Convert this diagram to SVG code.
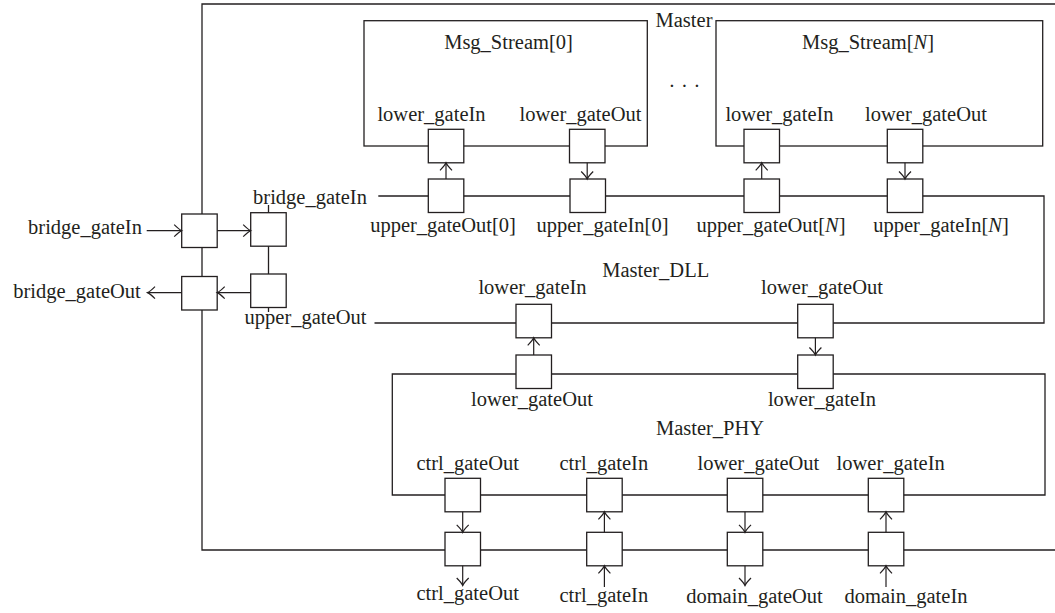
<svg xmlns="http://www.w3.org/2000/svg" width="1055" height="613" viewBox="0 0 1055 613">
<style>
.ln{fill:none;stroke:#231f20;stroke-width:1.3}
.pt{fill:#fff;stroke:#231f20;stroke-width:1.3}
.ar{fill:none;stroke:#231f20;stroke-width:1.2;marker-end:url(#ah)}
text{font-family:"Liberation Serif","Times New Roman",serif;font-size:20.5px;fill:#231f20;text-anchor:middle}
</style>
<defs>
<marker id="ah" viewBox="-10 -8 12 16" markerWidth="12" markerHeight="16" refX="0" refY="0" orient="auto" markerUnits="userSpaceOnUse" overflow="visible">
<path d="M-7.5,-6 Q-2.5,-1 0,0 Q-2.5,1 -7.5,6" fill="none" stroke="#231f20" stroke-width="1.2"/>
</marker>
</defs>
<rect width="1055" height="613" fill="#fff"/>

<g id="Master">
<path class="ln" d="M1060,4 H202 V550 H1060"/>
<text x="684" y="27">Master</text>
<text x="672 684.5 697" y="93">···</text>
<rect class="pt" x="181.7" y="214" width="35.5" height="33.5"/>
<rect class="pt" x="181.7" y="276.5" width="35.5" height="33.5"/>
<rect class="pt" x="445" y="532.3" width="35.5" height="33.5"/>
<rect class="pt" x="586.7" y="532.3" width="35.5" height="33.5"/>
<rect class="pt" x="727.3" y="532.3" width="35.5" height="33.5"/>
<rect class="pt" x="868.3" y="532.3" width="35.5" height="33.5"/>
<text x="85" y="234">bridge_gateIn</text>
<text x="77" y="297.5">bridge_gateOut</text>
<text x="467.7" y="600">ctrl_gateOut</text>
<text x="603.8" y="601.7">ctrl_gateIn</text>
<text x="754.5" y="602.7">domain_gateOut</text>
<text x="906" y="602.7">domain_gateIn</text>
</g>

<g id="Msg_Stream0">
<rect class="ln" x="364" y="20.7" width="283.3" height="125.3"/>
<text x="508.5" y="49">Msg_Stream[0]</text>
<text x="431.5" y="120.5">lower_gateIn</text>
<text x="580.5" y="120.5">lower_gateOut</text>
<rect class="pt" x="428.3" y="129.3" width="35.5" height="33.5"/>
<rect class="pt" x="569.5" y="129.3" width="35.5" height="33.5"/>
</g>

<g id="Msg_StreamN">
<rect class="ln" x="716" y="20.7" width="326.7" height="125.3"/>
<text x="868" y="49">Msg_Stream[<tspan font-style="italic">N</tspan>]</text>
<text x="779.5" y="120.5">lower_gateIn</text>
<text x="926" y="120.5">lower_gateOut</text>
<rect class="pt" x="744" y="129.3" width="35.5" height="33.5"/>
<rect class="pt" x="887.3" y="129.3" width="35.5" height="33.5"/>
</g>

<g id="Master_DLL">
<path class="ln" d="M378.3,196 H1044 V323 H374.5"/>
<path class="ln" d="M268.5,205 V312"/>
<text x="310" y="204">bridge_gateIn</text>
<text x="305.5" y="324">upper_gateOut</text>
<text x="655.7" y="276.7">Master_DLL</text>
<text x="443" y="231.7">upper_gateOut[0]</text>
<text x="602.5" y="231.7">upper_gateIn[0]</text>
<text x="771" y="231.7">upper_gateOut[<tspan font-style="italic">N</tspan>]</text>
<text x="941" y="231.7">upper_gateIn[<tspan font-style="italic">N</tspan>]</text>
<text x="532.5" y="294.3">lower_gateIn</text>
<text x="822" y="293.5">lower_gateOut</text>
<rect class="pt" x="250.7" y="212.7" width="35.5" height="33.5"/>
<rect class="pt" x="250.7" y="274" width="35.5" height="33.5"/>
<rect class="pt" x="428.3" y="179" width="35.5" height="33.5"/>
<rect class="pt" x="570" y="179" width="35.5" height="33.5"/>
<rect class="pt" x="744" y="179" width="35.5" height="33.5"/>
<rect class="pt" x="887.3" y="179" width="35.5" height="33.5"/>
<rect class="pt" x="516" y="304.3" width="35.5" height="33.5"/>
<rect class="pt" x="797.7" y="304.3" width="35.5" height="33.5"/>
</g>

<g id="Master_PHY">
<path class="ln" d="M516,374 H392.3 V495 H1045 V374 H516"/>
<text x="532" y="406">lower_gateOut</text>
<text x="822" y="406">lower_gateIn</text>
<text x="710" y="435">Master_PHY</text>
<text x="467.7" y="470">ctrl_gateOut</text>
<text x="603.8" y="470">ctrl_gateIn</text>
<text x="758.4" y="470">lower_gateOut</text>
<text x="890.7" y="470">lower_gateIn</text>
<rect class="pt" x="516" y="355" width="35.5" height="33.5"/>
<rect class="pt" x="797.7" y="355" width="35.5" height="33.5"/>
<rect class="pt" x="445" y="478.3" width="35.5" height="33.5"/>
<rect class="pt" x="586.7" y="478.3" width="35.5" height="33.5"/>
<rect class="pt" x="727.3" y="478.3" width="35.5" height="33.5"/>
<rect class="pt" x="868.3" y="478.3" width="35.5" height="33.5"/>
</g>

<g id="connectors">
<line class="ar" x1="146.7" y1="230.7" x2="181.7" y2="230.7"/>
<line class="ar" x1="217.2" y1="230.7" x2="250.7" y2="230.7"/>
<line class="ar" x1="250.7" y1="292.6" x2="217.2" y2="292.6"/>
<line class="ar" x1="181.7" y1="292.6" x2="147.5" y2="292.6"/>
<line class="ar" x1="446" y1="179" x2="446" y2="162.8"/>
<line class="ar" x1="587.2" y1="162.8" x2="587.2" y2="179"/>
<line class="ar" x1="761.7" y1="179" x2="761.7" y2="162.8"/>
<line class="ar" x1="905" y1="162.8" x2="905" y2="179"/>
<line class="ar" x1="533.7" y1="355" x2="533.7" y2="337.8"/>
<line class="ar" x1="815.4" y1="337.8" x2="815.4" y2="355"/>
<line class="ar" x1="462.7" y1="511.8" x2="462.7" y2="532.3"/>
<line class="ar" x1="604.4" y1="532.3" x2="604.4" y2="511.8"/>
<line class="ar" x1="745" y1="511.8" x2="745" y2="532.3"/>
<line class="ar" x1="886" y1="532.3" x2="886" y2="511.8"/>
<line class="ar" x1="462.7" y1="565.8" x2="462.7" y2="585.5"/>
<line class="ar" x1="604.4" y1="587" x2="604.4" y2="565.8"/>
<line class="ar" x1="745" y1="565.8" x2="745" y2="585.5"/>
<line class="ar" x1="886" y1="587" x2="886" y2="565.8"/>
</g>
</svg>
